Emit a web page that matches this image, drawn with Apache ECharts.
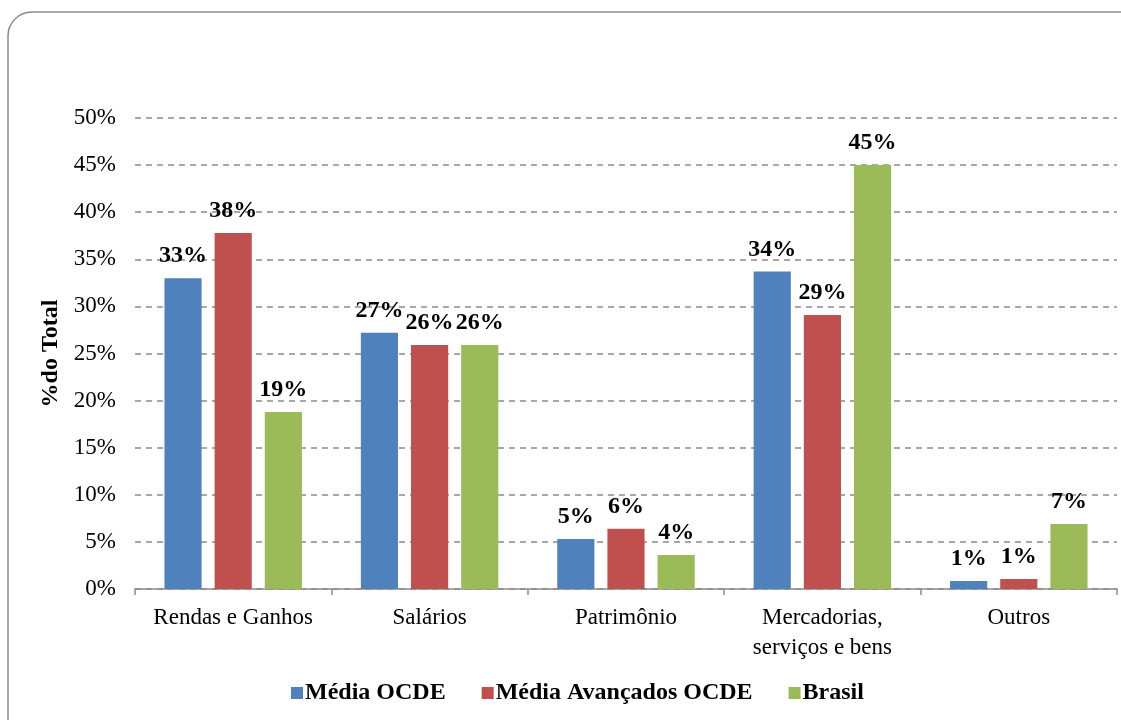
<!DOCTYPE html>
<html>
<head>
<meta charset="utf-8">
<script src="https://cdn.jsdelivr.net/npm/echarts@6/dist/echarts.min.js"></script>
<style>
html,body{margin:0;padding:0;background:#fff;}
#c{width:1121px;height:720px;}
</style>
</head>
<body>
<div id="c"></div>
<script>
var categories = ['Rendas e Ganhos', 'Salários', 'Patrimônio', 'Mercadorias,\nserviços e bens', 'Outros'];
var mediaOCDE = [33.0, 27.2, 5.3, 33.7, 0.85];
var mediaAvancados = [37.8, 25.9, 6.4, 29.1, 1.06];
var brasil = [18.8, 25.9, 3.6, 45.0, 6.9];
var seriesNames = ['Média OCDE', 'Média Avançados OCDE', 'Brasil'];
var colors = ['#4f81bd', '#c0504d', '#9bbb59'];

var serif = '"Liberation Serif", "DejaVu Serif", serif';
var chart = echarts.init(document.getElementById('c'));

function mk(name, data, color) {
  return {
    name: name,
    type: 'bar',
    data: data,
    barGap: '35%',
    barCategoryGap: '30%',
    itemStyle: { color: color },
    label: {
      show: true,
      position: 'top',
      distance: 10,
      fontFamily: serif,
      fontWeight: 'bold',
      fontSize: 24,
      color: '#000',
      formatter: function (p) { return Math.round(p.value) + '%'; }
    }
  };
}

chart.setOption({
  animation: false,
  backgroundColor: '#fff',
  graphic: [{
    type: 'rect',
    shape: { x: 8, y: 12, width: 1140, height: 740, r: 24 },
    style: { fill: 'none', stroke: '#8c8c8c', lineWidth: 1.5 },
    silent: true,
    z: -10
  }],
  grid: { left: 135, right: 4, top: 118, bottom: 131, containLabel: false },
  legend: {
    data: seriesNames,
    bottom: 10,
    left: 286,
    icon: 'rect',
    itemWidth: 12,
    itemHeight: 12,
    itemGap: 36,
    textStyle: { fontFamily: serif, fontWeight: 'bold', fontSize: 24, color: '#000', padding: [0, 0, 0, -3] }
  },
  xAxis: {
    type: 'category',
    data: categories,
    axisLine: { lineStyle: { color: '#8c8c8c', width: 1.5 } },
    axisTick: { show: true, interval: 0, length: 6, lineStyle: { color: '#8c8c8c', width: 1.5 } },
    axisLabel: { interval: 0, fontFamily: serif, fontSize: 23, color: '#000', margin: 14, lineHeight: 30 }
  },
  yAxis: {
    type: 'value',
    min: 0, max: 50, interval: 5,
    name: '%do Total',
    nameLocation: 'middle',
    nameGap: 72,
    nameRotate: 90,
    nameTextStyle: { fontFamily: serif, fontWeight: 'bold', fontSize: 24, color: '#000' },
    axisLine: { show: false },
    axisTick: { show: false },
    axisLabel: { fontFamily: serif, fontSize: 23, color: '#000', margin: 19, formatter: '{value}%' },
    splitLine: { lineStyle: { color: '#8a8a8a', type: [6, 5], width: 1.5 } }
  },
  series: [
    mk(seriesNames[0], mediaOCDE, colors[0]),
    mk(seriesNames[1], mediaAvancados, colors[1]),
    mk(seriesNames[2], brasil, colors[2])
  ]
});
</script>
</body>
</html>
